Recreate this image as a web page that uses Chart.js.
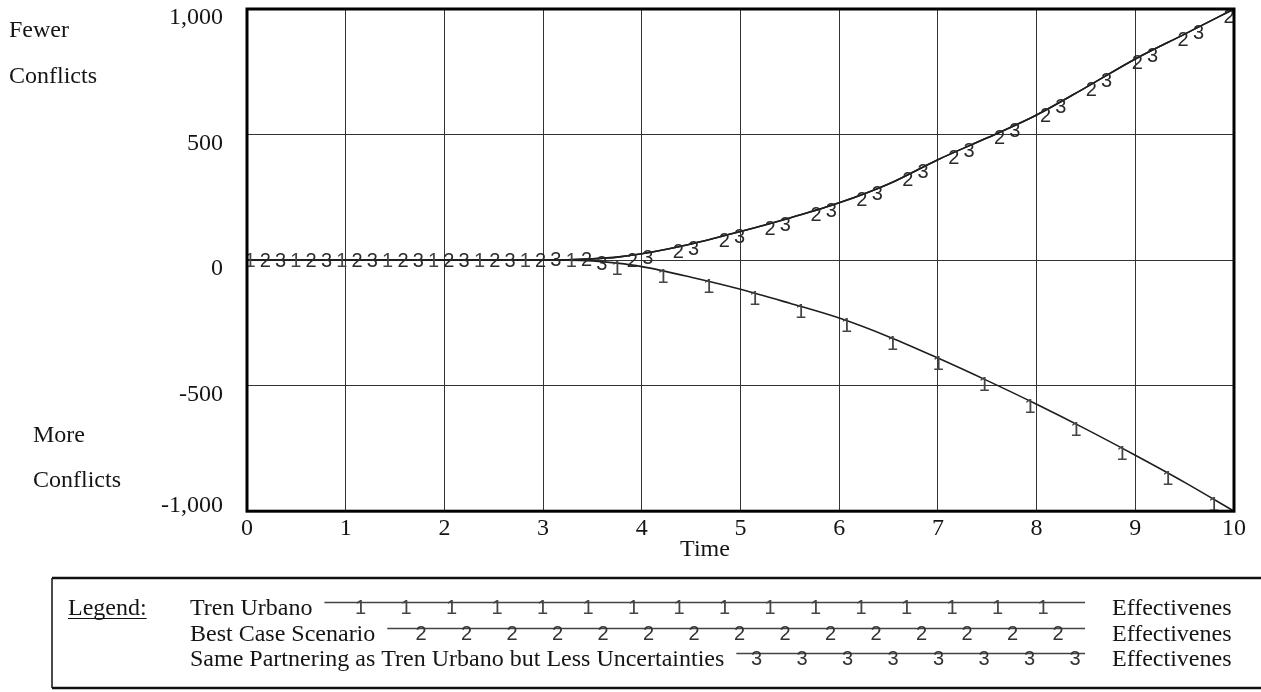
<!DOCTYPE html>
<html>
<head>
<meta charset="utf-8">
<title>Effectiveness over Time</title>
<script src="https://cdn.jsdelivr.net/npm/chart.js@4.4.1/dist/chart.umd.min.js"></script>
<style>
  html, body { margin: 0; padding: 0; background: #ffffff; }
  #wrap { position: relative; width: 1261px; height: 692px; }
  canvas { display: block; }
</style>
</head>
<body>
<div id="wrap"><canvas id="chart" width="1261" height="692"></canvas></div>
<script>
// Simulation time (x values shared by every run)
const time = [0, 0.5, 1, 1.5, 2, 2.5, 3, 3.25, 3.5, 3.75, 4, 4.5, 5, 5.5, 6, 6.5, 7, 7.5, 8, 8.5, 9, 9.5, 10];

// Effectiveness of each run
const trenUrbano     = [0, 0, 0, 0, 0, 0, 0, 0, -3, -12, -26, -68, -116, -172, -231, -305, -390, -480, -574, -673, -777, -885, -1000];
const bestCase       = [0, 0, 0, 0, 0, 0, 0, 1, 5, 12, 25, 64, 114, 168, 228, 303, 400, 487, 578, 688, 801, 900, 1000];
const samePartnering = [0, 0, 0, 0, 0, 0, 0, 1, 5, 12, 25, 64, 114, 168, 228, 303, 400, 487, 578, 688, 801, 900, 1000];

const seriesNames = ['Tren Urbano', 'Best Case Scenario', 'Same Partnering as Tren Urbano but Less Uncertainties'];
const seriesMarks = ['1', '2', '3'];
const unitLabel = 'Effectivenes';
const xTitle = 'Time';

const xTickValues = [0, 1, 2, 3, 4, 5, 6, 7, 8, 9, 10];
const yTickValues = [1000, 500, 0, -500, -1000];
const yTickLabels = ['1,000', '500', '0', '-500', '-1,000'];
const upperNote = ['Fewer', 'Conflicts'];
const lowerNote = ['More', 'Conflicts'];

const seriesValues = [trenUrbano, bestCase, samePartnering];

const ink = '#151515';
const serif = '"Liberation Serif", "Times New Roman", Times, serif';
const markFont = '20px "Liberation Sans Narrow", "Liberation Sans", Arial, sans-serif';

// run marks: first mark time per run and spacing (time units)
const markStart = [0.03, 0.185, 0.34];
const markStep = 0.465;

function valueAt(xs, ys, t) {
  for (let i = 1; i < xs.length; i++) {
    if (t <= xs[i]) {
      const f = (t - xs[i - 1]) / (xs[i] - xs[i - 1]);
      return ys[i - 1] + f * (ys[i] - ys[i - 1]);
    }
  }
  return ys[ys.length - 1];
}

const decorations = {
  id: 'decorations',
  afterDatasetsDraw(chart) {
    const { ctx, chartArea: a, scales } = chart;
    const xs = scales.x, ys = scales.y;

    // numbered marks riding on each run's line
    ctx.save();
    ctx.beginPath();
    ctx.rect(a.left, a.top - 12, a.right - a.left, a.bottom - a.top + 12);
    ctx.clip();
    ctx.font = markFont;
    ctx.textAlign = 'center';
    ctx.textBaseline = 'middle';
    seriesValues.forEach((vals, i) => {
      ctx.fillStyle = i === 0 ? '#454545' : '#2a2a2a';
      for (let k = 0; ; k++) {
        const t = markStart[i] + k * markStep;
        if (t > 10) break;
        const v = valueAt(time, vals, t);
        const px = xs.getPixelForValue(t);
        const py = ys.getPixelForValue(v);
        ctx.fillText(seriesMarks[i], px, py + (Math.abs(v) > 6 ? 6 : 1));
      }
    });
    ctx.restore();

    // heavy frame round the plot
    ctx.save();
    ctx.strokeStyle = '#000';
    ctx.lineWidth = 3;
    ctx.strokeRect(a.left, a.top, a.right - a.left, a.bottom - a.top);
    ctx.restore();
  },
  afterDraw(chart) {
    const { ctx, chartArea: a, scales } = chart;
    const ys = scales.y;
    ctx.save();
    ctx.fillStyle = ink;
    ctx.font = '24px ' + serif;

    // y tick labels
    ctx.textAlign = 'right';
    ctx.textBaseline = 'middle';
    yTickValues.forEach((v, i) => {
      let py = ys.getPixelForValue(v) + 9;
      py = Math.min(py, a.bottom - 5);
      ctx.fillText(yTickLabels[i], 223, py);
    });

    // x axis title
    ctx.textAlign = 'center';
    ctx.fillText(xTitle, 705, 550);

    // side notes
    ctx.textAlign = 'left';
    ctx.fillText(upperNote[0], 9, 31);
    ctx.fillText(upperNote[1], 9, 77);
    ctx.fillText(lowerNote[0], 33, 436);
    ctx.fillText(lowerNote[1], 33, 481);

    // legend box
    const boxL = 52, boxT = 578, boxB = 688, boxR = 1270;
    ctx.strokeStyle = '#111';
    ctx.lineWidth = 2.5;
    ctx.beginPath();
    ctx.moveTo(boxL, boxT); ctx.lineTo(boxR, boxT);
    ctx.moveTo(boxL, boxB); ctx.lineTo(boxR, boxB);
    ctx.stroke();
    ctx.lineWidth = 1.5;
    ctx.beginPath();
    ctx.moveTo(boxL, boxT); ctx.lineTo(boxL, boxB);
    ctx.stroke();

    ctx.textBaseline = 'alphabetic';
    ctx.textAlign = 'left';
    ctx.fillText('Legend:', 68, 615);
    const lw = ctx.measureText('Legend:').width;
    ctx.lineWidth = 1.2;
    ctx.beginPath();
    ctx.moveTo(68, 618.5); ctx.lineTo(68 + lw, 618.5);
    ctx.stroke();

    const baselines = [615, 641, 666];
    const lastMark = [1043, 1058, 1075];
    const lineEnd = 1085;
    seriesNames.forEach((name, i) => {
      const b = baselines[i];
      ctx.font = '24px ' + serif;
      ctx.fillStyle = ink;
      ctx.textAlign = 'left';
      ctx.textBaseline = 'alphabetic';
      ctx.fillText(name, 190, b);
      ctx.fillText(unitLabel, 1112, b);
      const textEnd = 190 + ctx.measureText(name).width;
      const start = textEnd + 12;
      const ly = b - 12.5;
      ctx.strokeStyle = '#444';
      ctx.lineWidth = 1.4;
      ctx.beginPath();
      ctx.moveTo(start, ly); ctx.lineTo(lineEnd, ly);
      ctx.stroke();
      ctx.font = markFont;
      ctx.textAlign = 'center';
      ctx.textBaseline = 'middle';
      ctx.fillStyle = i === 0 ? '#454545' : '#333';
      for (let mx = lastMark[i]; mx >= start - 2; mx -= 45.5) {
        ctx.fillText(seriesMarks[i], mx, ly + 6);
      }
    });
    ctx.restore();
  }
};

const ctx = document.getElementById('chart').getContext('2d');
new Chart(ctx, {
  type: 'line',
  data: {
    datasets: seriesValues.map((vals, i) => ({
      label: seriesNames[i],
      data: time.map((t, j) => ({ x: t, y: vals[j] })),
      borderColor: '#1e1e1e',
      borderWidth: 1.6,
      pointRadius: 0,
      fill: false,
      cubicInterpolationMode: 'monotone'
    }))
  },
  options: {
    responsive: false,
    animation: false,
    devicePixelRatio: 1,
    layout: { padding: { left: 247, right: 27, top: 9, bottom: 146 } },
    plugins: { legend: { display: false }, tooltip: { enabled: false } },
    scales: {
      x: {
        type: 'linear',
        min: 0,
        max: 10,
        afterBuildTicks: (scale) => { scale.ticks = xTickValues.map(v => ({ value: v })); },
        ticks: {
          font: { family: serif, size: 24 },
          color: ink,
          padding: 3,
          maxRotation: 0,
          autoSkip: false
        },
        grid: { color: '#333', lineWidth: 1, drawTicks: false },
        border: { display: false }
      },
      y: {
        type: 'linear',
        min: -1000,
        max: 1000,
        afterBuildTicks: (scale) => { scale.ticks = yTickValues.map(v => ({ value: v })); },
        ticks: { display: false },
        grid: { color: '#333', lineWidth: 1, drawTicks: false },
        border: { display: false }
      }
    }
  },
  plugins: [decorations]
});
</script>
</body>
</html>
